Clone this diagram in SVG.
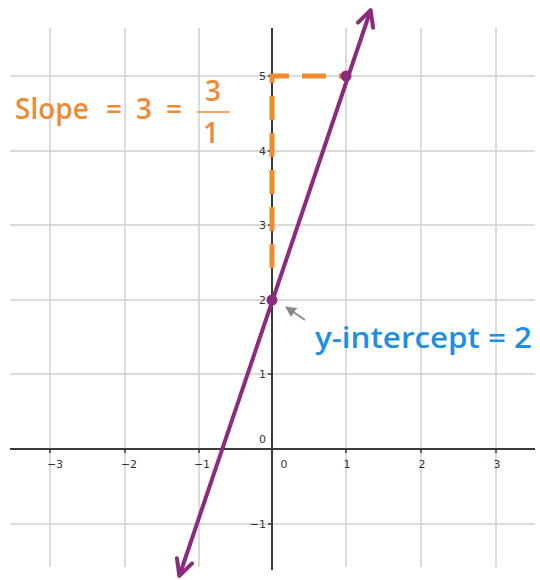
<svg xmlns="http://www.w3.org/2000/svg" width="540" height="580" viewBox="0 0 540 580">
<defs>
<style>
.grid{stroke:#cfcfcf;stroke-width:1.5;fill:none}
.axis{stroke:#3a3a3a;stroke-width:2;fill:none}
.tick{stroke:#3a3a3a;stroke-width:1.5}
.lbl{font-family:"DejaVu Sans",sans-serif;font-size:11px;fill:#333}
.line{stroke:#8c2b7e;stroke-width:4;fill:none;stroke-linecap:round}
.dash{stroke:#f08a2c;stroke-width:5;fill:none;stroke-dasharray:24 13}
.orange{font-family:"Open Sans",sans-serif;font-size:28px;font-weight:600;fill:#ee8a35}
.blue{font-family:"Open Sans",sans-serif;font-size:29px;font-weight:600;fill:#1e8fe2}
</style>
<marker id="ah" viewBox="0 0 10 10" refX="8" refY="5" markerWidth="5" markerHeight="5" orient="auto-start-reverse" markerUnits="strokeWidth">
<path d="M1,1 L9,5 L1,9" fill="none" stroke="#8c2b7e" stroke-width="2" stroke-linecap="round" stroke-linejoin="round"/>
</marker>
<marker id="ga" viewBox="0 0 10 10" refX="9" refY="5" markerWidth="6" markerHeight="6" orient="auto">
<path d="M0,0 L10,5 L0,10 Z" fill="#888"/>
</marker>
</defs>
<rect width="540" height="580" fill="#fff"/>
<g id="grid">
<path class="grid" d="M50,28V567M125,28V567M199,28V567M346,28V567M421,28V567M496,28V567"/>
<path class="grid" d="M10,76H535M10,151H535M10,225H535M10,300H535M10,374H535M10,524H535"/>
</g>
<g id="axes">
<path class="axis" d="M10,449H535M272,28V570"/>
<path class="tick" d="M50,449v4M125,449v4M199,449v4M346,449v4M421,449v4M496,449v4M268,76h4M268,151h4M268,225h4M268,300h4M268,374h4M268,524h4"/>
<g class="lbl">
<text x="55" y="468" text-anchor="middle">−3</text>
<text x="129" y="468" text-anchor="middle">−2</text>
<text x="202" y="468" text-anchor="middle">−1</text>
<text x="284" y="468" text-anchor="middle">0</text>
<text x="347" y="468" text-anchor="middle">1</text>
<text x="422" y="468" text-anchor="middle">2</text>
<text x="497" y="468" text-anchor="middle">3</text>
<text x="266" y="80" text-anchor="end">5</text>
<text x="266" y="155" text-anchor="end">4</text>
<text x="266" y="229" text-anchor="end">3</text>
<text x="266" y="304" text-anchor="end">2</text>
<text x="266" y="378" text-anchor="end">1</text>
<text x="266" y="443" text-anchor="end">0</text>
<text x="266" y="528" text-anchor="end">−1</text>
</g>
</g>
<g id="connectors">
<path class="dash" d="M272,268V76H346"/>
<path class="line" d="M180,574L370,12" marker-start="url(#ah)" marker-end="url(#ah)"/>
<path d="M305,320L286,307" stroke="#888" stroke-width="1.8" marker-end="url(#ga)"/>
</g>
<g id="point-1-5"><circle cx="346" cy="76" r="5.5" fill="#8c2b7e"/></g>
<g id="point-0-2"><circle cx="272" cy="300" r="5.5" fill="#8c2b7e"/></g>
<g id="slope-label">
<text class="orange" y="119"><tspan x="15">Slope</tspan><tspan x="106">=</tspan><tspan x="136">3</tspan><tspan x="166">=</tspan></text>
<text class="orange" x="213" y="101" text-anchor="middle">3</text>
<path d="M197,112H230" stroke="#ee8a35" stroke-width="1.5"/>
<text class="orange" x="211" y="143" text-anchor="middle">1</text>
</g>
<g id="intercept-label">
<text class="blue" x="315" y="348" textLength="217" lengthAdjust="spacingAndGlyphs">y-intercept = 2</text>
</g>
</svg>
